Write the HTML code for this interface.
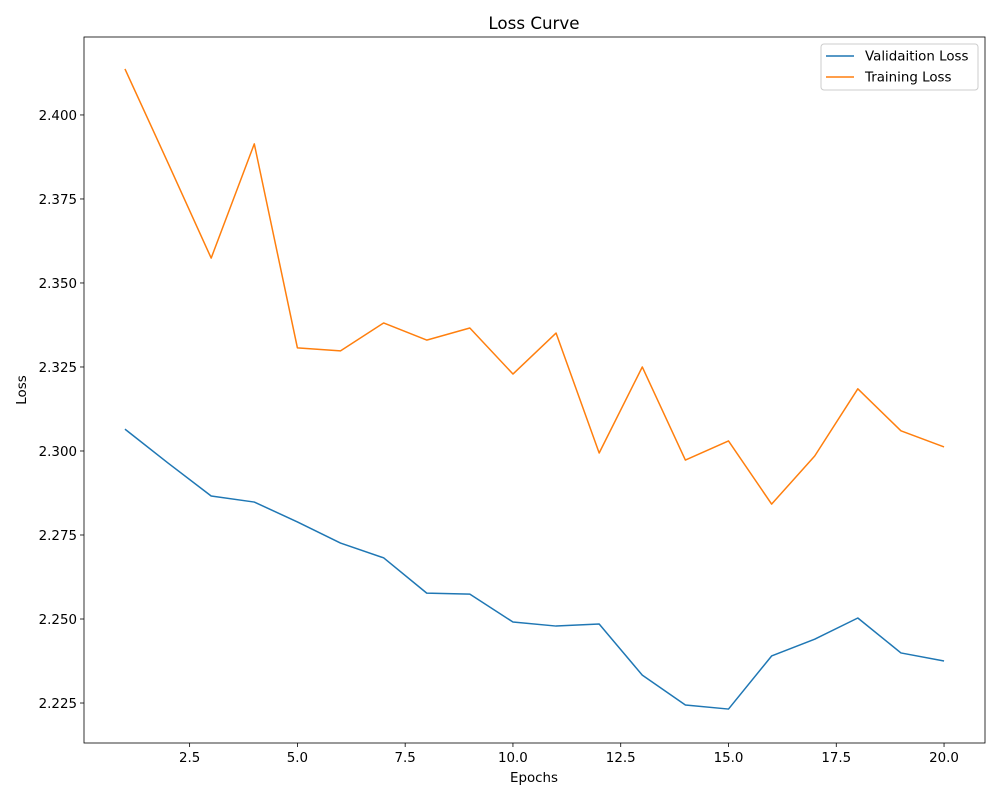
<!DOCTYPE html>
<html><head><meta charset="utf-8"><style>
body{margin:0;background:#fff}
svg{font-family:"DejaVu Sans","Liberation Sans",sans-serif}
</style></head><body>
<svg id="chart" width="1000" height="800"></svg>
<script>
const epochs=[1,2,3,4,5,6,7,8,9,10,11,12,13,14,15,16,17,18,19,20];
const validationLoss=[2.3065,2.2964,2.2866,2.2848,2.2789,2.2726,2.2682,2.2577,2.2574,2.2491,2.2479,2.2485,2.2333,2.2244,2.2232,2.2390,2.2440,2.2503,2.2399,2.2375];
const trainingLoss=[2.4137,2.3857,2.3574,2.3914,2.3307,2.3298,2.3381,2.3330,2.3366,2.3229,2.3351,2.2994,2.3250,2.2973,2.3030,2.2842,2.2985,2.3185,2.3060,2.3012];
const xTicks=[2.5,5.0,7.5,10.0,12.5,15.0,17.5,20.0];
const yTicks=[2.225,2.250,2.275,2.300,2.325,2.350,2.375,2.400];

const L=84,R=985,T=37,B=743;
const xMin=0.05,xMax=20.95,yMin=2.2131,yMax=2.4232;
const xs=v=>L+(v-xMin)/(xMax-xMin)*(R-L);
const ys=v=>B-(v-yMin)/(yMax-yMin)*(B-T);
const svg=document.getElementById('chart');
const NS='http://www.w3.org/2000/svg';
function mk(tag,attrs,parent){const e=document.createElementNS(NS,tag);for(const k in attrs)e.setAttribute(k,attrs[k]);(parent||svg).appendChild(e);return e;}

const title=mk('text',{x:534,y:29,'text-anchor':'middle','font-size':16.7,fill:'#000'});title.textContent='Loss Curve';



xTicks.forEach(t=>{
  const g=mk('g',{});
  
  
  mk('line',{x1:xs(t),x2:xs(t),y1:B,y2:B+4,stroke:'#000','stroke-width':0.8},g);
  const tx=mk('text',{x:xs(t),y:B+19,'text-anchor':'middle','font-size':13.4,fill:'#000'},g);tx.textContent=t.toFixed(1);
});
yTicks.forEach(t=>{
  const g=mk('g',{});
  
  
  mk('line',{x1:L-4,x2:L,y1:ys(t),y2:ys(t),stroke:'#000','stroke-width':0.8},g);
  const tx=mk('text',{x:L-7,y:ys(t)+5,'text-anchor':'end','font-size':13.4,fill:'#000'},g);tx.textContent=t.toFixed(3);
});
const xl=mk('text',{x:534,y:782,'text-anchor':'middle','font-size':13.4,fill:'#000'});xl.textContent='Epochs';


const yl=mk('text',{x:26,y:390,'text-anchor':'middle','font-size':13.4,fill:'#000',transform:'rotate(-90 26 390)'});yl.textContent='Loss';



function line(data,color,name){
  const p=mk('polyline',{points:epochs.map((e,i)=>xs(e)+','+ys(data[i])).join(' '),fill:'none',stroke:color,'stroke-width':1.5,'stroke-linejoin':'round'});
  
  
}
line(validationLoss,'#1f77b4','validation-loss-line');
line(trainingLoss,'#ff7f0e','training-loss-line');

const frame=mk('rect',{x:L,y:T,width:R-L,height:B-T,fill:'none',stroke:'#000','stroke-width':0.8});



const lg=mk('g',{});


mk('rect',{x:821,y:44,width:157,height:46,rx:3,fill:'#fff',stroke:'#ccc','stroke-width':1},lg);
[['Validaition Loss','#1f77b4',56],['Training Loss','#ff7f0e',77]].forEach(([n,c,y])=>{
  const g=mk('g',{},lg);
  
  
  mk('line',{x1:826,x2:854,y1:y,y2:y,stroke:c,'stroke-width':1.5},g);
  const t=mk('text',{x:865,y:y+4.5,'font-size':13.4,fill:'#000'},g);t.textContent=n;
});
</script>
</body></html>
